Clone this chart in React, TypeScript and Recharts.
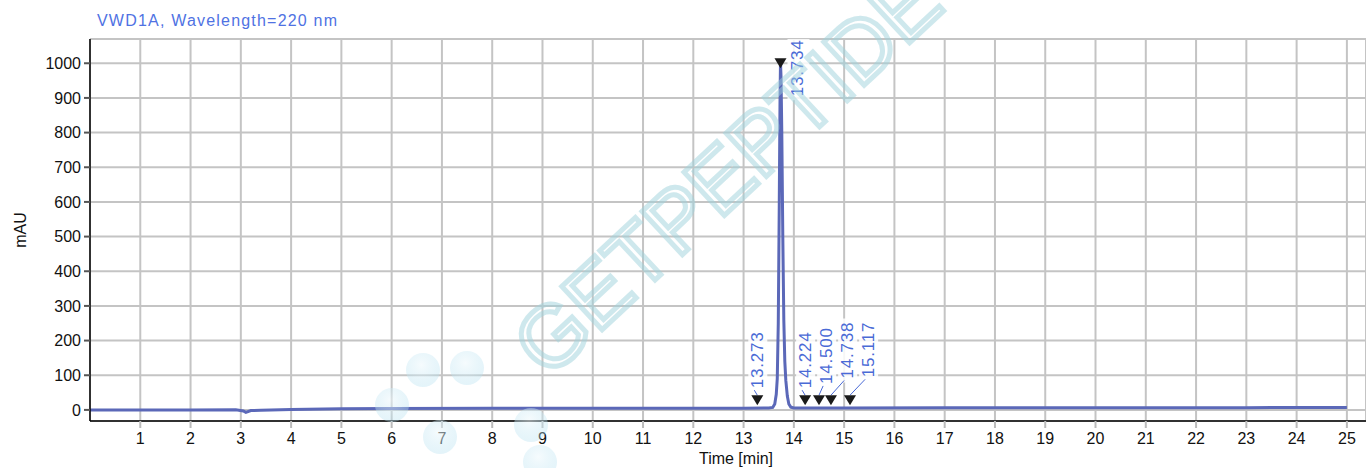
import { CartesianGrid, ComposedChart, Label, Line, Scatter, XAxis, YAxis } from "recharts";

// retention time (min) / detector signal (mAU)
const times = [
  0, 1, 2, 2.9, 3.05, 3.1, 3.2, 3.4, 3.6, 4, 5, 6, 8, 10, 12, 13, 13.5, 13.58, 13.62, 13.65, 13.67,
  13.69, 13.71, 13.725, 13.734, 13.745, 13.76, 13.78, 13.8, 13.82, 13.84, 13.87, 13.9, 13.94, 14,
  15, 17, 20, 23, 25,
];
const absorbance = [
  0, 0, 0, 0.5, -3, -7, -2, -1, 0, 1, 3, 4, 4.5, 5, 5, 5, 5.5, 7, 17, 45, 90, 250, 600, 900, 1002,
  960, 800, 500, 260, 140, 85, 40, 17, 8, 5.5, 5.5, 6, 6.5, 6.5, 7,
];

const peakTimes = [13.273, 13.734, 14.224, 14.5, 14.738, 15.117];
const peakLabels = ["13.273", "13.734", "14.224", "14.500", "14.738", "15.117"];
const peakMarks = [28, 1000, 28, 28, 28, 28];

const xTicks = Array.from({ length: 25 }, (_, i) => i + 1);
const yTicks = [0, 100, 200, 300, 400, 500, 600, 700, 800, 900, 1000];

const W = 1366;
const H = 468;
const LEFT = 90;
const TOP = 39;
const BOTTOM = 47;
const X_MAX = 25.38;
const Y_MIN = -32;
const Y_MAX = 1070;
const PX_PER_MIN = (W - LEFT) / X_MAX;
const FONT = "'Liberation Sans', Arial, sans-serif";
const BLUE = "#4a6ad6";

const trace = times.map((t, i) => ({ t, mAU: absorbance[i] }));
const peaks = peakTimes.map((t, i) => ({ t, mAU: peakMarks[i], label: peakLabels[i] }));

// push crowded labels apart so they don't overlap (min 21px)
const labelShift: number[] = [];
{
  let prev = -Infinity;
  peakTimes.forEach((t, i) => {
    const px = t * PX_PER_MIN;
    if (peakMarks[i] > 500) {
      labelShift.push(0);
      return;
    }
    const lx = Math.max(px, prev + 21);
    labelShift.push(lx - px);
    prev = lx;
  });
}

function PeakLabel({ x, y, text }: { x: number; y: number; text: string }) {
  return (
    <text
      x={x}
      y={y}
      transform={`rotate(-90 ${x} ${y})`}
      fontSize={17}
      letterSpacing={0.8}
      fontFamily={FONT}
      fill={BLUE}
    >
      {text}
    </text>
  );
}

function PeakMarker(props: any) {
  const { cx, cy, payload } = props;
  const i = peakTimes.indexOf(payload.t);
  const tri = `${cx - 6},${cy - 5} ${cx + 6},${cy - 5} ${cx},${cy + 5}`;
  if (payload.mAU > 500) {
    const lx = cx + 17;
    const by = cy + 33;
    return (
      <g>
        <rect x={lx - 10} y={by - 60} width={22} height={64} fill="#fff" opacity={0.85} />
        <PeakLabel x={lx + 6} y={by} text={payload.label} />
        <polygon points={tri} fill="#1a1a1a" />
      </g>
    );
  }
  const shift = labelShift[i];
  const lx = cx + shift;
  const by = cy - 12 - shift * 0.6;
  return (
    <g>
      <rect x={lx - 9} y={by - 60} width={19} height={64} fill="#fff" opacity={0.85} />
      <line x1={cx} y1={cy - 5} x2={lx - 3} y2={by + 2} stroke={BLUE} strokeWidth={1} />
      <PeakLabel x={lx + 6} y={by} text={payload.label} />
      <polygon points={tri} fill="#1a1a1a" />
    </g>
  );
}

const bubbles = [
  [392, 405],
  [423, 370],
  [467, 368],
  [440, 437],
  [531, 425],
  [540, 462],
];

function Watermark() {
  return (
    <svg
      width={W}
      height={H}
      style={{ position: "absolute", left: 0, top: 0, pointerEvents: "none" }}
    >
      <defs>
        <radialGradient id="bub" cx="45%" cy="35%" r="65%">
          <stop offset="0%" stopColor="#eef8fc" stopOpacity={0.9} />
          <stop offset="100%" stopColor="#b3e0f0" stopOpacity={0.6} />
        </radialGradient>
      </defs>
      <text
        x={548}
        y={380}
        transform="rotate(-43 548 380)"
        fontSize={86}
        fontFamily={FONT}
        fill="none"
        stroke="#9fd3dc"
        strokeWidth={5}
        opacity={0.5}
      >
        GETPEPTIDE
      </text>
      {bubbles.map(([x, y], i) => (
        <circle key={i} cx={x} cy={y} r={17} fill="url(#bub)" opacity={0.6} />
      ))}
      <text x={97} y={26} fontSize={16} fontFamily={FONT} fill="#4f72e3" letterSpacing={1.2}>
        VWD1A, Wavelength=220 nm
      </text>
    </svg>
  );
}

export default function App() {
  return (
    <div style={{ position: "absolute", left: 0, top: 0, width: W, height: H, background: "#fff" }}>
      <ComposedChart
        width={W}
        height={H}
        margin={{ top: TOP, right: 0, bottom: 0, left: 0 }}
        style={{ fontFamily: FONT }}
      >
        <CartesianGrid stroke="#c4c4c4" strokeWidth={2} />
        <XAxis
          xAxisId="top"
          orientation="top"
          type="number"
          dataKey="t"
          domain={[0, X_MAX]}
          height={0}
          tick={false}
          tickLine={false}
          axisLine={{ stroke: "#000", strokeWidth: 1.5 }}
        />
        <XAxis
          type="number"
          dataKey="t"
          domain={[0, X_MAX]}
          ticks={xTicks}
          height={BOTTOM}
          tick={{ fontSize: 16, fill: "#111" }}
          tickSize={7}
          tickMargin={5}
          tickLine={{ stroke: "#bbb", strokeWidth: 2 }}
          axisLine={{ stroke: "#000", strokeWidth: 1.5 }}
          allowDataOverflow
        >
          <Label value="Time [min]" position="insideBottom" offset={4} dx={8} fontSize={16} fill="#111" />
        </XAxis>
        <YAxis
          type="number"
          domain={[Y_MIN, Y_MAX]}
          ticks={yTicks}
          width={LEFT}
          tick={{ fontSize: 16, fill: "#111" }}
          tickSize={6}
          tickMargin={3}
          tickLine={{ stroke: "#555", strokeWidth: 2 }}
          axisLine={{ stroke: "#000", strokeWidth: 1.5 }}
          allowDataOverflow
        >
          <Label
            content={({ viewBox }: any) => (
              <text
                x={viewBox.x + 26}
                y={viewBox.y + viewBox.height / 2}
                transform={`rotate(-90 ${viewBox.x + 26} ${viewBox.y + viewBox.height / 2})`}
                textAnchor="middle"
                fontSize={16}
                fontFamily={FONT}
                fill="#111"
              >
                mAU
              </text>
            )}
          />
        </YAxis>
        <Line
          data={trace}
          dataKey="mAU"
          type="linear"
          stroke="#5b68b8"
          strokeWidth={3}
          dot={false}
          isAnimationActive={false}
        />
        <Scatter data={peaks} dataKey="mAU" shape={PeakMarker} isAnimationActive={false} />
      </ComposedChart>
      <Watermark />
    </div>
  );
}
